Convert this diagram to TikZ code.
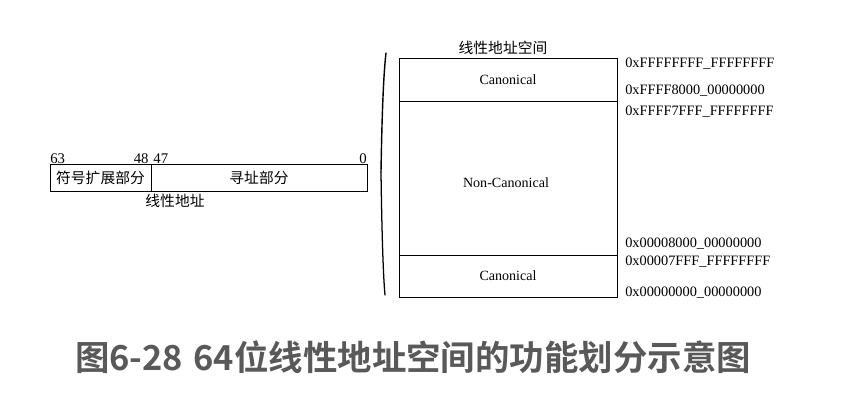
\documentclass[tikz,border=0pt]{standalone}
\usepackage{fontspec}
\setmainfont{Liberation Serif}
\newfontfamily\cjk{Noto Sans CJK SC}
\newfontfamily\cjkbf{Noto Sans CJK SC Bold}
\definecolor{capgray}{HTML}{595959}
\tikzset{
  addr/.style={anchor=west,inner sep=0pt,font=\fontsize{10.2}{12}\selectfont},
  bitno/.style={inner sep=1pt,font=\fontsize{10.5}{12}\selectfont},
  cjktext/.style={inner sep=0pt,font=\cjk\fontsize{10.5}{12}\selectfont},
  field/.style={inner sep=0pt,font=\fontsize{10}{12}\selectfont}
}
\begin{document}
\begin{tikzpicture}
\useasboundingbox (0,0) rectangle (21.325,-10.35);

% linear address
\coordinate (la) at (1.25,-4.1);
\coordinate (lb) at (9.175,-4.775);
\coordinate (ld) at (3.775,-4.1);
\draw[line width=0.5pt] (la) rectangle (lb);
\draw[line width=0.5pt] (ld) -- (ld |- lb);
\node[bitno,anchor=south west,inner sep=0pt] (b63) at (la) {63};
\node[bitno,anchor=south,inner sep=0pt] (b48) at (ld) {48\,\,47};
\node[bitno,anchor=south east,inner sep=0pt] (b0) at (la -| lb) {0};
\path (la) -- (ld |- lb) node[cjktext,midway] (sign) {符号扩展部分};
\path (ld) -- (lb) node[cjktext,midway] (addrpart) {寻址部分};
\node[cjktext] (lalabel) at (4.375,-5.025) {线性地址};

% brace
\coordinate (p1) at (9.65,-1.325);
\coordinate (p2) at (9.525,-4.3);
\coordinate (p3) at (9.625,-7.375);
\draw[line width=1pt,line cap=round] (p1) .. controls (9.57,-2.0) and (9.54,-3.4) .. (p2);
\draw[line width=0.9pt,line cap=round] (p2) .. controls (9.54,-5.4) and (9.57,-6.8) .. (p3);

% address space
\coordinate (sa) at (9.975,-1.45);
\coordinate (sb) at (15.425,-7.425);
\coordinate (s1) at (9.975,-2.525);
\coordinate (s2) at (9.975,-6.375);
\draw[line width=0.5pt] (sa) rectangle (sb);
\draw[line width=0.5pt] (s1) -- (s1 -| sb);
\draw[line width=0.5pt] (s2) -- (s2 -| sb);
\node[cjktext] (space) at (12.575,-1.2) {线性地址空间};
\path (sa) -- (s1 -| sb) node[field,midway] (canhi) {Canonical};
\node[field] (noncan) at (12.65,-4.575) {Non-Canonical};
\path (s2) -- (sb) node[field,midway] (canlo) {Canonical};

\node[addr] (a1) at (15.625,-1.6) {0xFFFFFFFF\_FFFFFFFF};
\node[addr] (a2) at (15.625,-2.275) {0xFFFF8000\_00000000};
\node[addr] (a3) at (15.625,-2.8) {0xFFFF7FFF\_FFFFFFFF};
\node[addr] (a4) at (15.625,-6.1) {0x00008000\_00000000};
\node[addr] (a5) at (15.625,-6.55) {0x00007FFF\_FFFFFFFF};
\node[addr] (a6) at (15.625,-7.325) {0x00000000\_00000000};

% caption
\node[inner sep=0pt,text=capgray,font=\cjkbf\fontsize{24.5}{28}\selectfont] (cap) at (10.325,-8.925) {图6-28\hspace{0.3em}64位线性地址空间的功能划分示意图};
\end{tikzpicture}
\end{document}
